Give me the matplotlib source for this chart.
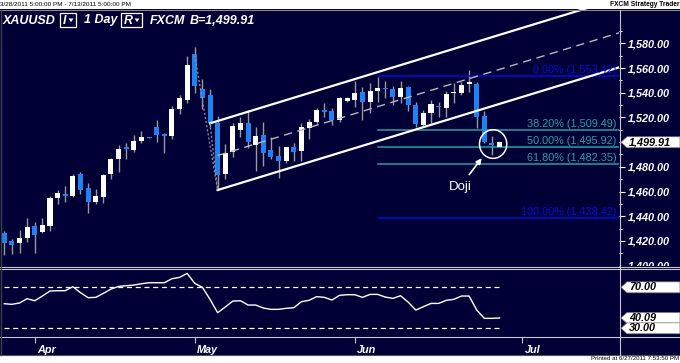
"""
XAUUSD daily chart (FXCM Strategy Trader look) with channel, fib levels and RSI.
"""
import matplotlib
matplotlib.use("Agg")
import matplotlib.pyplot as plt
import matplotlib.transforms as mtransforms
from matplotlib import font_manager
from matplotlib.patches import Rectangle, Polygon, Ellipse
from matplotlib.lines import Line2D
from matplotlib.ticker import FixedLocator, FuncFormatter

W, H = 680, 363
BG = '#000036'
CANDLE_BLUE = '#1e82f0'
WICK = '#9a9a9a'
FIB_BLUE = '#0a0ad8'
FIB_TEAL = '#23a3a3'
FRAME = '#c8c8c8'

# daily candles 3/28/2011 .. 6/27/2011 (bar index = trading day)
opens = [1426.7, 1419.9, 1418.0, 1422.1, 1432.1, 1427.2, 1432.1, 1455.0, 1458.2, 1456.6,
         1474.2, 1462.8, 1451.2, 1455.8, 1474.2, 1486.1, 1496.3, 1493.6, 1500.9, 1504.1,
         1512.0, 1506.3, 1505.2, 1526.8, 1534.1, 1571.3, 1542.7, 1538.1, 1515.2, 1474.2,
         1492.3, 1509.8, 1515.2, 1497.6, 1505.8, 1493.6, 1488.8, 1485.0, 1495.8, 1492.8,
         1511.1, 1516.0, 1526.0, 1525.2, 1517.9, 1533.3, 1534.1, 1540.8, 1532.7, 1541.4,
         1543.5, 1542.7, 1536.2, 1544.4, 1529.8, 1513.8, 1523.8, 1529.2, 1527.3, 1539.5,
         1539.5, 1546.8, 1547.1, 1521.1, 1499.5, 1496.3]
highs = [1428.0, 1421.8, 1428.8, 1438.3, 1435.0, 1438.3, 1456.6, 1461.2, 1464.5, 1474.2,
         1475.8, 1466.6, 1461.8, 1474.2, 1487.4, 1497.4, 1499.0, 1505.8, 1509.0, 1504.4,
         1517.9, 1507.6, 1529.2, 1538.1, 1569.7, 1577.3, 1550.8, 1542.7, 1521.1, 1498.5,
         1515.2, 1520.1, 1526.0, 1512.0, 1516.6, 1503.9, 1496.9, 1496.2, 1499.0, 1515.2,
         1518.4, 1527.9, 1531.9, 1527.3, 1536.8, 1536.2, 1549.7, 1544.9, 1547.6, 1553.0,
         1549.7, 1545.4, 1549.7, 1545.4, 1532.7, 1526.0, 1534.1, 1532.7, 1541.6, 1547.6,
         1549.0, 1558.4, 1549.0, 1525.2, 1505.0, 1500.4]
lows = [1408.6, 1409.1, 1410.0, 1419.4, 1410.5, 1426.1, 1428.3, 1449.9, 1451.2, 1455.3,
        1457.7, 1442.3, 1449.9, 1450.4, 1469.9, 1476.1, 1486.1, 1492.3, 1499.0, 1503.4,
        1500.4, 1491.5, 1502.2, 1522.7, 1531.4, 1540.0, 1526.5, 1512.0, 1462.0, 1469.9,
        1488.2, 1504.4, 1495.0, 1476.9, 1480.9, 1486.1, 1470.7, 1483.4, 1485.0, 1485.0,
        1502.8, 1514.6, 1520.1, 1513.8, 1516.6, 1532.7, 1528.7, 1517.9, 1523.3, 1532.7,
        1535.4, 1530.0, 1531.4, 1525.4, 1512.0, 1513.0, 1515.2, 1520.1, 1520.6, 1531.9,
        1538.1, 1540.8, 1511.1, 1499.0, 1489.5, 1495.8]
closes = [1418.0, 1416.7, 1422.1, 1431.3, 1424.8, 1432.6, 1455.0, 1458.8, 1456.6, 1472.8,
          1461.2, 1451.2, 1456.6, 1473.3, 1486.1, 1494.4, 1494.7, 1501.2, 1504.4, 1503.6,
          1505.8, 1505.2, 1526.8, 1536.0, 1562.4, 1545.4, 1535.4, 1515.2, 1473.3, 1490.9,
          1513.0, 1515.2, 1500.4, 1505.2, 1491.5, 1488.2, 1485.0, 1495.8, 1491.7, 1512.5,
          1516.6, 1526.0, 1524.6, 1517.9, 1535.4, 1535.4, 1540.0, 1532.7, 1541.6, 1544.1,
          1542.7, 1536.8, 1543.5, 1530.0, 1514.6, 1523.8, 1530.6, 1528.4, 1539.0, 1540.3,
          1546.2, 1549.0, 1520.6, 1500.4, 1497.4, 1499.91]
rsi = [54.0, 53.4, 54.7, 58.9, 56.9, 61.5, 66.4, 66.7, 66.7, 70.6,
       64.8, 59.9, 60.2, 64.1, 68.3, 70.9, 71.6, 72.2, 73.5, 74.5,
       74.5, 74.5, 78.4, 79.7, 83.6, 73.9, 70.0, 58.3, 45.2, 50.8,
       56.6, 56.9, 52.7, 52.7, 49.8, 48.5, 48.5, 49.5, 50.1, 56.0,
       57.3, 60.9, 60.2, 57.6, 62.2, 62.8, 62.8, 60.2, 63.1, 63.1,
       60.5, 59.2, 61.8, 55.6, 47.8, 51.1, 54.3, 54.3, 57.3, 58.3,
       61.5, 61.5, 47.8, 39.7, 39.7, 40.09]
rsi_levels = [70, 30]

price_ticks = [1400, 1420, 1440, 1460, 1480, 1500, 1520, 1540, 1560, 1580]
month_pos = [4, 25, 46, 68]
month_labels = ['Apr', 'May', 'Jun', 'Jul']

# fibonacci retracement drawn from bar 49
fib_hi, fib_lo = 1553.42, 1438.42
fib_pcts = [0.0, 38.2, 50.0, 61.8, 100.0]
fib_start = 49

# channel: lower line anchor, slope per bar, width
chan_lower_start = (28, 1461.2)
chan_slope = 1.886
chan_width = 55.9

fonts = {f.name for f in font_manager.fontManager.ttflist}
NARROW = 'Liberation Sans Narrow' if 'Liberation Sans Narrow' in fonts else 'Liberation Sans'
AX_FS = 9.3 if NARROW == 'Liberation Sans Narrow' else 7.8
plt.rcParams['font.family'] = ['Liberation Sans', 'DejaVu Sans']


def fx(px):
    return px / W


def fy(py):
    return 1 - py / H


fig = plt.figure(figsize=(W / 100, H / 100), dpi=100)
fig.patch.set_facecolor(BG)

ax = fig.add_axes([0, fy(266), fx(619), (266 - 9) / H])
ax_rsi = fig.add_axes([0, fy(337), fx(619), (337 - 269) / H])
for a in (ax, ax_rsi):
    a.set_facecolor(BG)
    for s in a.spines.values():
        s.set_visible(False)

n = len(closes)
xs = list(range(n))
ax.set_xlim(-0.56, 80.67)
ax.set_ylim(1399.7, 1607.8)
ax_rsi.set_xlim(-0.56, 80.67)
ax_rsi.set_ylim(21.5, 87.9)

# candles
ax.vlines(xs, lows, highs, color=WICK, lw=1.0, zorder=2)
bottoms = [min(o, c) for o, c in zip(opens, closes)]
heights = [max(abs(c - o), 0.9) for o, c in zip(opens, closes)]
colors = ['white' if c >= o else CANDLE_BLUE for o, c in zip(opens, closes)]
ax.bar(xs, heights, bottom=bottoms, width=0.66, color=colors, edgecolor='none', zorder=3)

# channel
x0, y0 = chan_lower_start
x1 = 82
ax.plot([x0, x1], [y0, y0 + chan_slope * (x1 - x0)], color='white', lw=1.6, zorder=4)
ux0 = x0 - 1
ax.plot([ux0, x1], [y0 + chan_width + chan_slope * (ux0 - x0),
                    y0 + chan_width + chan_slope * (x1 - x0)], color='white', lw=1.6, zorder=4)
ax.plot([x0, x1], [y0 + chan_width / 2, y0 + chan_width / 2 + chan_slope * (x1 - x0)],
        color='#b8b8c0', lw=1.0, ls=(0, (6, 4)), zorder=4)
# dotted legs from the May high down to the channel base
ax.plot([25, x0], [highs[25] - 7, y0], color='#8a8a9a', lw=1.0, ls=(0, (1.5, 1.5)), zorder=4)
ax.plot([ux0, x0], [y0 + chan_width - chan_slope, y0], color='#8a8a9a', lw=1.0,
        ls=(0, (1.5, 1.5)), zorder=4)

# fibonacci levels
for p in fib_pcts:
    level = fib_hi - (fib_hi - fib_lo) * p / 100
    col = FIB_BLUE if p in (0.0, 100.0) else FIB_TEAL
    ax.plot([fib_start, 80.67], [level, level], color=col, lw=1.1, zorder=2)
    ax.annotate(f'{p:.2f}% ({level:,.2f})', (80.3, level), xytext=(0, 1),
                textcoords='offset points', ha='right', va='bottom',
                color=col, fontsize=7.8, zorder=5)

# doji annotation
dj = 64
cy = (opens[dj] + closes[dj]) / 2
ax.add_patch(Ellipse((dj + 0.15, cy), 3.58, 23.2, fill=False, ec='white', lw=1.1, zorder=5))
ax.annotate('Doji', xy=(dj - 1.35, cy - 11.5), xytext=(dj - 4.2, cy - 34.6),
            ha='center', va='center', color='white', fontsize=9.5,
            arrowprops=dict(arrowstyle='-|>', color='white', lw=1.2,
                            mutation_scale=8, shrinkA=3, shrinkB=0), zorder=6)

# right price axis; the label under the last-price tag is left out
last = closes[-1]
ax.yaxis.tick_right()
ax.yaxis.set_major_locator(FixedLocator(price_ticks))
ax.yaxis.set_minor_locator(FixedLocator([t + 10 for t in price_ticks]))
ax.yaxis.set_major_formatter(FuncFormatter(
    lambda v, p: '' if abs(v - last) < 8 else f'{v:,.2f}'))
ax.tick_params(axis='y', which='major', direction='out', length=4, width=0.8,
               color='white', pad=2, labelcolor='white', labelsize=AX_FS)
ax.tick_params(axis='y', which='minor', direction='out', length=2, width=0.8, color='white')
for lbl in ax.get_yticklabels():
    lbl.set_family(NARROW)
    lbl.set_style('italic')
    lbl.set_weight('bold')
ax.set_xticks([])

# RSI panel
ax_rsi.plot(xs, rsi, color='white', lw=1.0)
ax_rsi.hlines(rsi_levels, 0, n - 1, color='white', lw=0.9, ls=(0, (4, 3)))
ax_rsi.set_yticks([])
ax_rsi.set_xticks(month_pos)
ax_rsi.set_xticklabels(month_labels)
ax_rsi.tick_params(axis='x', direction='out', length=4, width=0.8, color=FRAME,
                   pad=1.5, labelcolor='white', labelsize=AX_FS)
shift = mtransforms.ScaledTranslation(2 / 100, 0, fig.dpi_scale_trans)
for lbl in ax_rsi.get_xticklabels():
    lbl.set_ha('left')
    lbl.set_family(NARROW)
    lbl.set_style('italic')
    lbl.set_weight('bold')
    lbl.set_transform(lbl.get_transform() + shift)

# cover the cut-off bottom price label and draw frame lines
fig.add_artist(Rectangle((fx(620), fy(276)), fx(60), (276 - 266) / H,
                         transform=fig.transFigure, fc=BG, ec='none', zorder=3))
fig.add_artist(Rectangle((0, fy(9)), 1, 9 / H, transform=fig.transFigure,
                         fc='white', ec='none', zorder=3))
fig.add_artist(Rectangle((0, 0), 1, (H - 355) / H, transform=fig.transFigure,
                         fc='white', ec='none', zorder=3))
for py, col in [(9.5, '#8a8a8a'), (266.5, FRAME), (269, FRAME), (337, FRAME), (355, '#505050')]:
    fig.add_artist(Line2D([0, 1], [fy(py), fy(py)], transform=fig.transFigure,
                          color=col, lw=0.8, zorder=4))
fig.add_artist(Line2D([fx(619.5), fx(619.5)], [fy(355), fy(9.5)], transform=fig.transFigure,
                      color=FRAME, lw=0.8, zorder=4))
fig.add_artist(Line2D([fx(0.5), fx(0.5)], [fy(355), fy(9.5)], transform=fig.transFigure,
                      color='#40404a', lw=1.0, zorder=4))


def tag(axis, value, text):
    """White price tag with a left pointing nose on the right axis."""
    py = H - axis.transData.transform((0, value))[1]
    half = 5.5
    pts = [(fx(621), fy(py)), (fx(627), fy(py - half)), (fx(680), fy(py - half)),
           (fx(680), fy(py + half)), (fx(627), fy(py + half))]
    fig.add_artist(Polygon(pts, closed=True, transform=fig.transFigure,
                           fc='white', ec='#707070', lw=0.5, zorder=5))
    fig.text(fx(629), fy(py), text, ha='left', va='center', color='black',
             fontsize=AX_FS, family=NARROW, style='italic', weight='bold', zorder=6)


tag(ax, last, f'{last:,.2f}')
tag(ax_rsi, rsi_levels[0], f'{rsi_levels[0]:.2f}')
tag(ax_rsi, rsi[-1], f'{rsi[-1]:.2f}')
tag(ax_rsi, rsi_levels[1], f'{rsi_levels[1]:.2f}')

# header texts
hdr = dict(color='white', fontsize=9, style='italic', weight='bold', va='center', zorder=6)
fig.text(fx(3), fy(20.5), 'XAUUSD', **hdr)
fig.text(fx(63), fy(20.5), 'I', **hdr)
fig.text(fx(84), fy(20.5), '1 Day', **hdr)
fig.text(fx(123.5), fy(20.5), 'R', **hdr)
fig.text(fx(150), fy(20.5), 'FXCM', **hdr)
fig.text(fx(190), fy(20.5), f'B={last:,.2f}', **hdr)
for bx0, bx1, tx in [(60, 76, 68.5), (121, 142, 134.5)]:
    fig.add_artist(Rectangle((fx(bx0), fy(27.3)), fx(bx1 - bx0), 14 / H,
                             transform=fig.transFigure, fill=False, ec='white', lw=0.9, zorder=6))
    fig.add_artist(Polygon([(fx(tx), fy(18.5)), (fx(tx + 5), fy(18.5)), (fx(tx + 2.5), fy(22))],
                           closed=True, transform=fig.transFigure, fc='white', ec='none', zorder=6))

fig.text(fx(0), fy(4.6), '3/28/2011 5:00:00 PM - 7/13/2011 5:00:00 PM', ha='left',
         va='center', fontsize=4.6, color='black', zorder=6)
fig.text(fx(679), fy(4.6), 'FXCM Strategy Trader', ha='right', va='center',
         fontsize=4.8, weight='bold', color='black', zorder=6)
fig.text(fx(679), fy(359), 'Printed at 6/27/2011 7:53:50 PM', ha='right', va='center',
         fontsize=4.4, color='black', zorder=6)

fig.savefig('out.png', dpi=100, facecolor=fig.get_facecolor())
